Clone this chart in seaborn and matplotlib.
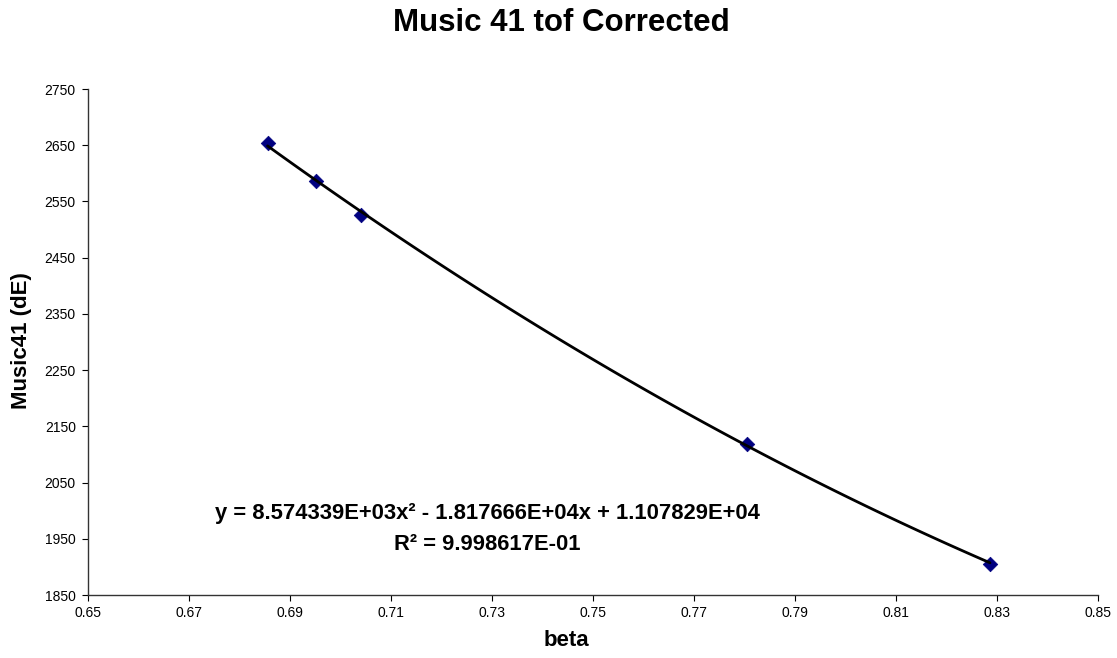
import numpy as np
import pandas as pd
import matplotlib
matplotlib.use("Agg")
import matplotlib.pyplot as plt
import seaborn as sns

# Data
beta = [0.6855, 0.6951, 0.7041, 0.7804, 0.8286]
music41_de = [2654, 2586, 2526, 2119, 1906]

x_ticks = [0.65, 0.67, 0.69, 0.71, 0.73, 0.75, 0.77, 0.79, 0.81, 0.83, 0.85]
y_ticks = [1850, 1950, 2050, 2150, 2250, 2350, 2450, 2550, 2650, 2750]

title = "Music 41 tof Corrected"
x_label = "beta"
y_label = "Music41 (dE)"
eq_line1 = "y = 8.574339E+03x² - 1.817666E+04x + 1.107829E+04"
eq_line2 = "R² = 9.998617E-01"

df = pd.DataFrame({"beta": beta, "dE": music41_de})

sns.set_style("white")
plt.rcParams["font.family"] = ["Liberation Sans", "DejaVu Sans"]
plt.rcParams["text.color"] = "black"
plt.rcParams["xtick.color"] = "black"
plt.rcParams["ytick.color"] = "black"

fig = plt.figure(figsize=(11.17, 6.58), dpi=100)
ax = fig.add_axes([0.0791, 0.0957, 0.983 - 0.0791, 0.8647 - 0.0957])

sns.scatterplot(data=df, x="beta", y="dE", marker="D", s=55, color="#000080",
                edgecolor="#000080", linewidth=0.5, ax=ax, zorder=2)
sns.regplot(data=df, x="beta", y="dE", order=2, ci=None, scatter=False,
            truncate=True, color="black", line_kws={"linewidth": 2.0, "zorder": 3},
            ax=ax)

ax.set_xlim(0.65, 0.85)
ax.set_ylim(1850, 2750)
ax.set_xticks(x_ticks)
ax.set_yticks(y_ticks)
ax.set_xticklabels([f"{v:.2f}" for v in x_ticks])
ax.set_yticklabels([str(v) for v in y_ticks])
ax.tick_params(axis="both", labelsize=10, length=4, width=0.8, color="black",
               labelcolor="black", direction="out", pad=4)
ax.tick_params(axis="y", pad=5)
ax.xaxis.set_ticks_position("bottom")
ax.yaxis.set_ticks_position("left")
for side in ["top", "right"]:
    ax.spines[side].set_visible(False)
for side in ["left", "bottom"]:
    ax.spines[side].set_color("#333333")
    ax.spines[side].set_linewidth(1.0)
ax.set_xlabel("")
ax.set_ylabel("")

fig.text(0.503, 0.965, title, ha="center", va="center", fontsize=22.5,
         fontweight="bold", color="black")
fig.text(0.5074, 0.026, x_label, ha="center", va="center", fontsize=16,
         fontweight="bold", color="black")
fig.text(0.019, 1 - 341 / 658, y_label, ha="center", va="center", rotation=90,
         fontsize=16, fontweight="bold", color="black")
fig.text(0.436, 1 - 513 / 658, eq_line1, ha="center", va="center", fontsize=15.8,
         fontweight="bold", color="black")
fig.text(0.436, 1 - 544 / 658, eq_line2, ha="center", va="center", fontsize=15.8,
         fontweight="bold", color="black")

fig.savefig("out.png", dpi=100, facecolor="white")
